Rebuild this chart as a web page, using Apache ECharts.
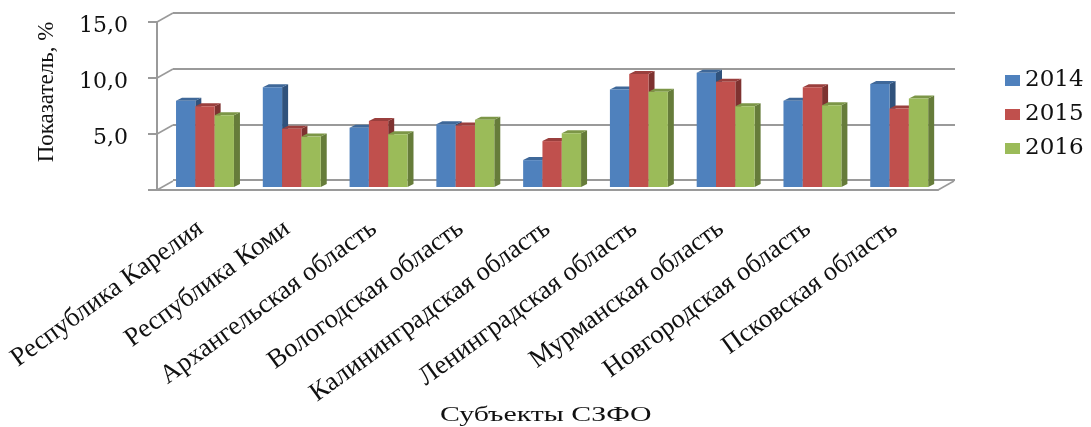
<!DOCTYPE html>
<html><head><meta charset="utf-8">
<style>html,body{margin:0;padding:0;background:#fff}#c{width:1091px;height:427px}</style>
<script src="https://cdn.jsdelivr.net/npm/echarts@6/dist/echarts.min.js"></script></head>
<body><div id="c"></div>
<script>
const categories = ['Республика Карелия','Республика Коми','Архангельская область','Вологодская область','Калининградская область','Ленинградская область','Мурманская область','Новгородская область','Псковская область'];
const years = ['2014','2015','2016'];
const v2014 = [7.7,8.9,5.3,5.6,2.4,8.7,10.2,7.7,9.2];
const v2015 = [7.2,5.2,5.9,5.5,4.1,10.1,9.4,8.9,7.0];
const v2016 = [6.4,4.5,4.7,6.0,4.8,8.5,7.2,7.3,7.9];
const yTicks = [0,5,10,15];
const colors = ['#4F81BD','#C0504D','#9BBB59'];
const sides = ['#30527C','#7E3230','#667C3A'];
const tops = ['#3F6899','#9A3F3D','#7C9647'];
const GREY = '#9a9a9a';
const DX = 6, DY = 3, LIFT = 3, SHIFT = 4.6, DEPTHX = 16, DEPTHY = 9;

function poly(pts, fill){ return {type:'polygon', shape:{points:pts}, style:{fill}}; }
function barRender(idx){
  return function(params, api){
    const c = api.coord([api.value(0), api.value(1)]);
    const b = api.coord([api.value(0), 0]);
    const w = api.size([1,0])[0] * 0.2225;
    const x0 = c[0] + SHIFT + (idx-1.5)*w, x1 = x0 + w, yt = c[1]-LIFT, yb = b[1]-LIFT;
    return {type:'group', children:[
      poly([[x1,yb],[x1+DX,yb-DY],[x1+DX,yt-DY],[x1,yt]], sides[idx]),
      poly([[x0,yt],[x0+DX,yt-DY],[x1+DX,yt-DY],[x1,yt]], tops[idx]),
      {type:'rect', shape:{x:x0,y:yt,width:w,height:yb-yt}, style:{fill:colors[idx]}}
    ]};
  };
}
function wallRender(params, api){
  const p = api.coord([0, api.value(0)]);
  const x = p[0] - api.size([1,0])[0]/2;
  return {type:'line', shape:{x1:x,y1:p[1],x2:x+DEPTHX,y2:p[1]-DEPTHY}, style:{stroke:GREY,lineWidth:1.6}};
}
function floorRender(params, api){
  const p = api.coord([categories.length-1, 0]);
  const x = p[0] + api.size([1,0])[0]/2;
  return {type:'line', shape:{x1:x,y1:p[1],x2:x+DEPTHX,y2:p[1]-DEPTHY}, style:{stroke:GREY,lineWidth:1.6}};
}
const chart = echarts.init(document.getElementById('c'));
const serif = '"Liberation Serif", serif';
const wide = '"DejaVu Serif", serif';
const series = [v2014,v2015,v2016].map((vals,i)=>({
  type:'custom', name:years[i], xAxisIndex:0, yAxisIndex:0, z:5,
  itemStyle:{color:colors[i]}, renderItem:barRender(i), clip:false,
  encode:{x:0,y:1}, data:vals.map((v,j)=>[j,v])
}));
series.push({type:'custom', silent:true, xAxisIndex:0, yAxisIndex:0, z:2, clip:false, renderItem:wallRender, encode:{y:0}, data:yTicks.map(t=>[t])});
series.push({type:'custom', silent:true, xAxisIndex:0, yAxisIndex:0, z:2, clip:false, renderItem:floorRender, data:[[0]]});
series.push({type:'line', silent:true, xAxisIndex:1, yAxisIndex:1, data:[], showSymbol:false});
chart.setOption({
  animation:false, backgroundColor:'#fff',
  grid:[
    {left:157, top:22, width:781, height:168},
    {left:173, top:13, width:782, height:167}
  ],
  legend:{data:years, orient:'vertical', left:1000, top:64, icon:'rect', itemWidth:15, itemHeight:11, itemGap:11,
    textStyle:{fontFamily:wide, fontSize:23, color:'#111'}},
  graphic:[{type:'text', left:440, top:405, scaleX:1.42, style:{text:'Субъекты СЗФО', font:'21px "Liberation Serif"', fill:'#111'}}],
  xAxis:[
    {type:'category', data:categories, gridIndex:0,
     axisLine:{lineStyle:{color:GREY,width:2}}, axisTick:{length:6,lineStyle:{color:GREY,width:2}},
     axisLabel:{interval:0, rotate:36, margin:36, fontFamily:serif, fontSize:26.5, color:'#111'}},
    {type:'category', data:categories, gridIndex:1, axisLine:{show:false}, axisTick:{show:false}, axisLabel:{show:false}}
  ],
  yAxis:[
    {type:'value', gridIndex:0, min:0, max:15, interval:5, name:'Показатель, %', nameLocation:'middle', nameGap:99,
     nameTextStyle:{fontFamily:serif, fontSize:23, color:'#111', padding:[0,0,0,28]},
     axisLine:{show:true,lineStyle:{color:GREY,width:2}}, axisTick:{show:true,length:9,lineStyle:{color:GREY,width:2}},
     splitLine:{show:false},
     axisLabel:{fontFamily:wide, fontSize:22, color:'#111', margin:29, verticalAlign:'top', lineHeight:8,
       formatter:v=> v===0 ? '' : v.toFixed(1).replace('.',',')}},
    {type:'value', gridIndex:1, min:0, max:15, interval:5, axisLine:{show:false}, axisTick:{show:false}, axisLabel:{show:false},
     splitLine:{show:true,lineStyle:{color:GREY,width:2}}}
  ],
  series
});
</script></body></html>
